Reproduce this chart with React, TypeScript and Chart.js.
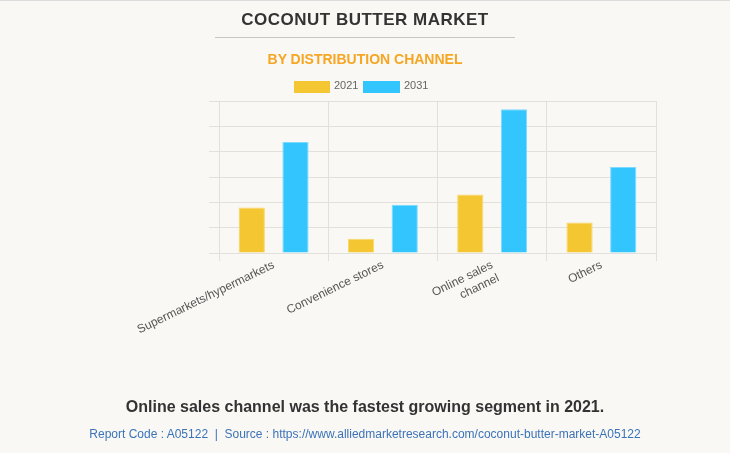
import React, { useEffect, useRef } from "react";
import { Chart, registerables } from "chart.js";

Chart.register(...registerables);

const categories: (string | string[])[] = [
  "Supermarkets/hypermarkets",
  "Convenience stores",
  ["Online sales", "channel"],
  "Others",
];
const seriesNames = ["2021", "2031"];
const values2021 = [1.8, 0.56, 2.31, 1.2];
const values2031 = [4.38, 1.9, 5.67, 3.39];
const yMax = 6;
const yStep = 1;

const YELLOW = "#f4c631";
const BLUE = "#33c6fe";
const FONT = "'Liberation Sans', Arial, sans-serif";

export default function App() {
  const ref = useRef<HTMLCanvasElement | null>(null);

  useEffect(() => {
    document.body.style.margin = "0";
    const ctx = ref.current!.getContext("2d")!;
    const chart = new Chart(ctx, {
      type: "bar",
      data: {
        labels: categories as any,
        datasets: [
          {
            label: seriesNames[0],
            data: values2021,
            backgroundColor: YELLOW,
            borderColor: "#f7d866",
            borderWidth: 1,
            barPercentage: 0.6,
            categoryPercentage: 0.8,
          },
          {
            label: seriesNames[1],
            data: values2031,
            backgroundColor: BLUE,
            borderColor: "#7dd9ff",
            borderWidth: 1,
            barPercentage: 0.6,
            categoryPercentage: 0.8,
          },
        ],
      },
      options: {
        responsive: false,
        animation: false,
        layout: { padding: { left: 209, right: 74, top: 100, bottom: 0 } },
        plugins: { legend: { display: false }, tooltip: { enabled: false }, title: { display: false } },
        scales: {
          x: {
            grid: { color: "#e2e0db", tickLength: 8, offset: true },
            border: { color: "#e2e0db" },
            ticks: {
              minRotation: 26,
              maxRotation: 26,
              color: "#555",
              font: { family: FONT, size: 12 },
              padding: -3,
            },
            afterFit: (scale: any) => {
              scale.height = 201;
            },
          },
          y: {
            min: 0,
            max: yMax,
            grid: { color: "#e2e0db", tickLength: 10 },
            border: { color: "#e2e0db" },
            ticks: { stepSize: yStep, display: false },
            afterFit: (scale: any) => {
              scale.width = 10;
            },
          },
        },
      },
    });
    return () => chart.destroy();
  }, []);

  return (
    <div
      style={{
        position: "relative",
        width: 730,
        height: 453,
        background: "#f9f8f4",
        boxSizing: "border-box",
        borderTop: "1px solid #dcdcdc",
        overflow: "hidden",
        fontFamily: FONT,
      }}
    >
      <canvas ref={ref} width={730} height={453} style={{ position: "absolute", left: 0, top: 0 }} />
      <div
        style={{
          position: "absolute",
          left: 0,
          width: 730,
          top: 9,
          textAlign: "center",
          fontWeight: "bold",
          fontSize: 17,
          color: "#333",
          letterSpacing: 0.5,
        }}
      >
        COCONUT BUTTER MARKET
      </div>
      <div style={{ position: "absolute", left: 215, width: 300, top: 36, height: 1, background: "#c8c8c8" }} />
      <div
        style={{
          position: "absolute",
          left: 0,
          width: 730,
          top: 50,
          textAlign: "center",
          fontWeight: "bold",
          fontSize: 14,
          color: "#f6a623",
        }}
      >
        BY DISTRIBUTION CHANNEL
      </div>
      <div style={{ position: "absolute", left: 294, top: 80, width: 36, height: 12, background: YELLOW }} />
      <div style={{ position: "absolute", left: 334, top: 78, fontSize: 11, color: "#666" }}>{seriesNames[0]}</div>
      <div style={{ position: "absolute", left: 363, top: 80, width: 37, height: 12, background: BLUE }} />
      <div style={{ position: "absolute", left: 404, top: 78, fontSize: 11, color: "#666" }}>{seriesNames[1]}</div>
      <div
        style={{
          position: "absolute",
          left: 0,
          width: 730,
          top: 397,
          textAlign: "center",
          fontWeight: "bold",
          fontSize: 16,
          color: "#333",
        }}
      >
        Online sales channel was the fastest growing segment in 2021.
      </div>
      <div
        style={{
          position: "absolute",
          left: 0,
          width: 730,
          top: 426,
          textAlign: "center",
          fontSize: 12,
          color: "#3b73b9",
        }}
      >
        Report Code : A05122&nbsp;&nbsp;|&nbsp;&nbsp;Source : https://www.alliedmarketresearch.com/coconut-butter-market-A05122
      </div>
    </div>
  );
}
